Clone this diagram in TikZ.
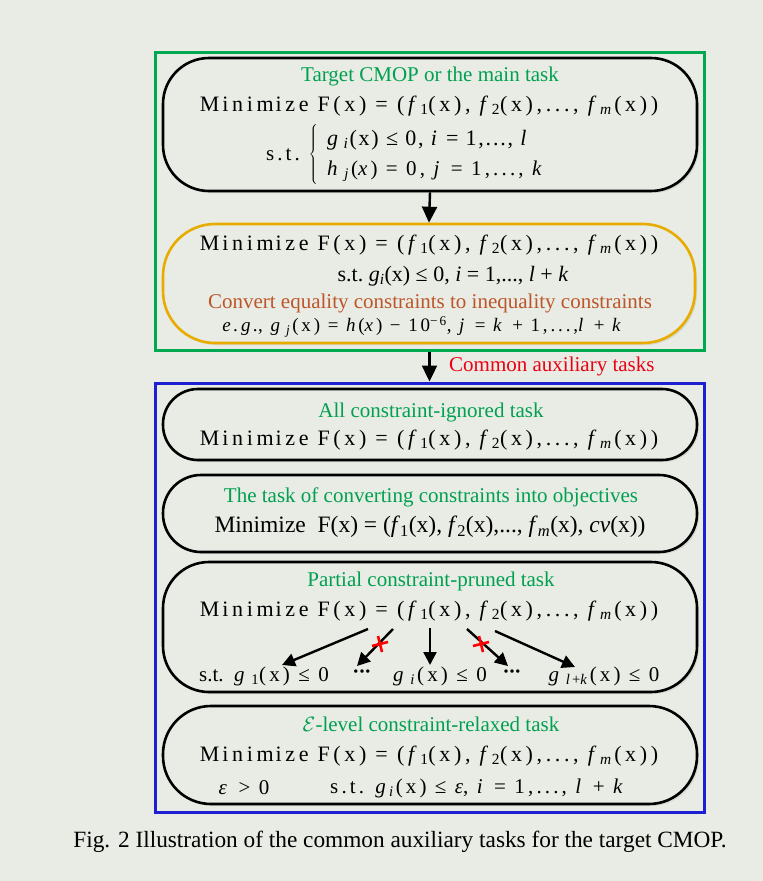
\documentclass[tikz,border=0pt]{standalone}
\usepackage{fontspec}
\setmainfont{Liberation Serif}
\newfontfamily\spaced[LetterSpace=15]{Liberation Serif}
\newfontfamily\spacedM[LetterSpace=16.5]{Liberation Serif}
\newfontfamily\spacedS[LetterSpace=8]{Liberation Serif}
\usetikzlibrary{arrows.meta,shadows}
\definecolor{bg}{RGB}{232,236,228}
\definecolor{tgreen}{RGB}{0,160,80}
\definecolor{rgreen}{RGB}{0,168,80}
\definecolor{ryellow}{RGB}{232,172,0}
\definecolor{rblue}{RGB}{30,30,210}
\definecolor{tred}{RGB}{235,0,20}
\definecolor{tbrown}{RGB}{190,85,40}
\newcommand{\fs}{\fontsize{21}{25}\selectfont}
\newcommand{\vi}[1]{\textit{#1}}
\newcommand{\sbi}[1]{\textsubscript{\textit{#1}}}
\newcommand{\MinLine}{{\fontsize{22}{26}\selectfont\spacedM M\kern3pt inim\kern2pt ize\kern9pt F(x) = (\,\vi{f}\textsubscript{1}(x), \vi{f}\textsubscript{2}(x),..., \vi{f}\sbi{m}(x))}}
\begin{document}
\begin{tikzpicture}[x=1pt,y=-1pt,
  every node/.style={font=\fs, inner sep=0pt},
  frame/.style={draw, line width=3pt, minimum width=549pt, inner sep=0pt},
  task/.style={draw=black, line width=2.6pt, fill=bg, minimum width=534pt, inner sep=0pt,
     drop shadow={opacity=0.18, shadow xshift=2pt, shadow yshift=-2pt}},
  title/.style={text=tgreen},
  arr/.style={line width=2.4pt, -{Triangle[length=16pt,width=15pt]}},
  sarr/.style={line width=2.4pt, -{Triangle[length=13pt,width=13pt]}},
  redx/.style={draw=red, line width=2.6pt},
  dots/.style={font=\fontsize{21}{25}\selectfont\bfseries}
]
\fill[bg] (0,0) rectangle (763,881);
\useasboundingbox (0,0) rectangle (763,881);

% frames and boxes
\node[frame, draw=rgreen, minimum height=298pt] (gr) at (429.5,201) {};
\node[task, minimum height=133pt, rounded corners=46pt] (b1) at (430,124.5) {};
\node[task, draw=ryellow, minimum width=532pt, minimum height=119pt, rounded corners=52pt] (b2) at (429,283.5) {};
\node[frame, draw=rblue, minimum height=429pt] (bl) at (429.5,597.5) {};
\node[task, minimum height=71pt, rounded corners=35pt] (ba) at (430,424.5) {};
\node[task, minimum height=77pt, rounded corners=38pt] (bb) at (430,513.5) {};
\node[task, minimum height=130pt, rounded corners=46pt] (bc) at (430,627) {};
\node[task, minimum height=98pt, rounded corners=48pt] (bd) at (430,755) {};

\draw[arr] (b1.south) -- (b2.north);
\draw[arr] (gr.south) -- (bl.north);
\node[text=tred, anchor=west] (cat) at (449,366) {Common auxiliary tasks};

% box 1
\node[title] (t1) at (430,76) {Target CMOP or the main task};
\node (m1) at (429,106) {\MinLine};
\node (st1) at (283,155) {\spaced s.t.};
\node (br1) at (314,155) {$\left\{\vrule height 25pt depth 25pt width 0pt\right.$};
\node[anchor=west] (g1) at (327,140) {\fontsize{22}{26}\selectfont\spacedS \vi{g}\,\sbi{i}(x) ≤ 0, \vi{i} = 1,..., \vi{l}};
\node[anchor=west] (h1) at (327,171) {\spaced \vi{h}\,\sbi{j}(\vi{x}) = 0, \vi{j} = 1,..., \vi{k}};

% yellow box
\node (m2) at (429,245) {\MinLine};
\node (s2) at (453,276) {\fontsize{22}{26}\selectfont s.t.\ \vi{g}\sbi{i}(x) ≤ 0, \vi{i} = 1,..., \vi{l} + \vi{k}};
\node[text=tbrown] (cv2) at (430,303) {Convert equality constraints to inequality constraints};
\node (eg2) at (423,327) {\fontsize{19}{21}\selectfont\spaced \vi{e.g.}, \vi{g}\,\sbi{j}(x) = \vi{h}(\vi{x}) − 10\textsuperscript{−6}, \vi{j} = \vi{k} + 1,...,\vi{l} + \vi{k}};

% box A
\node[title] (ta) at (431,412) {All constraint-ignored task};
\node (ma) at (429,440) {\MinLine};

% box B
\node[title] (tb) at (431,497) {The task of converting constraints into objectives};
\node (mb) at (430,527) {\fontsize{23.5}{27}\selectfont Minimize\ \ F(x) = (\vi{f}\textsubscript{1}(x), \vi{f}\textsubscript{2}(x),..., \vi{f}\sbi{m}(x), \vi{cv}(x))};

% box C
\node[title] (tc) at (431,581) {Partial constraint-pruned task};
\node (mc) at (429,611) {\MinLine};
\node[anchor=west] (cg1) at (199,676) {s.t.\ \ {\spaced \vi{g}\,\textsubscript{1}(x) ≤ 0}};
\node[dots] (cd1) at (362,674) {·\kern-1pt·\kern-1pt·};
\node (cgi) at (440,676) {\spaced \vi{g}\,\sbi{i}(x) ≤ 0};
\node[dots] (cd2) at (512,674) {·\kern-1pt·\kern-1pt·};
\node (cgl) at (604,676) {\spaced \vi{g}\,\textsubscript{\textit{l}+\textit{k}}(x) ≤ 0};
\coordinate (a1s) at (368,629); \coordinate (a1e) at (282,665);
\coordinate (a2s) at (393,629); \coordinate (a2e) at (357,666);
\coordinate (a3s) at (430,628); \coordinate (a3e) at (430,665);
\coordinate (a4s) at (467,629); \coordinate (a4e) at (508,666);
\coordinate (a5s) at (495,631); \coordinate (a5e) at (575,667);
\draw[sarr] (a1s) -- (a1e);
\draw[sarr] (a2s) -- (a2e);
\draw[sarr] (a3s) -- (a3e);
\draw[sarr] (a4s) -- (a4e);
\draw[sarr] (a5s) -- (a5e);
\coordinate (x1) at (380,644);
\coordinate (x2) at (481,644);
\draw[redx] (x1) ++(-8,2) -- ++(16,-4) (x1) ++(-2,-8) -- ++(4,16);
\draw[redx] (x2) ++(-8,2) -- ++(16,-4) (x2) ++(-2,-8) -- ++(4,16);

% box D
\node[title] (td) at (431,724) {$\mathcal{E}$-level constraint-relaxed task};
\node (md) at (429,756) {\MinLine};
\node (ed) at (244,788) {{\spaced\vi{ε} > 0}};
\node (sd) at (478,788) {\spaced s.t. \vi{g}\sbi{i}(x) ≤ \vi{ε}, \vi{i} = 1,..., \vi{l} + \vi{k}};

% caption
\node (cap) at (400,842) {\fontsize{23.3}{27}\selectfont Fig. 2 Illustration of the common auxiliary tasks for the target CMOP.};
\end{tikzpicture}
\end{document}
